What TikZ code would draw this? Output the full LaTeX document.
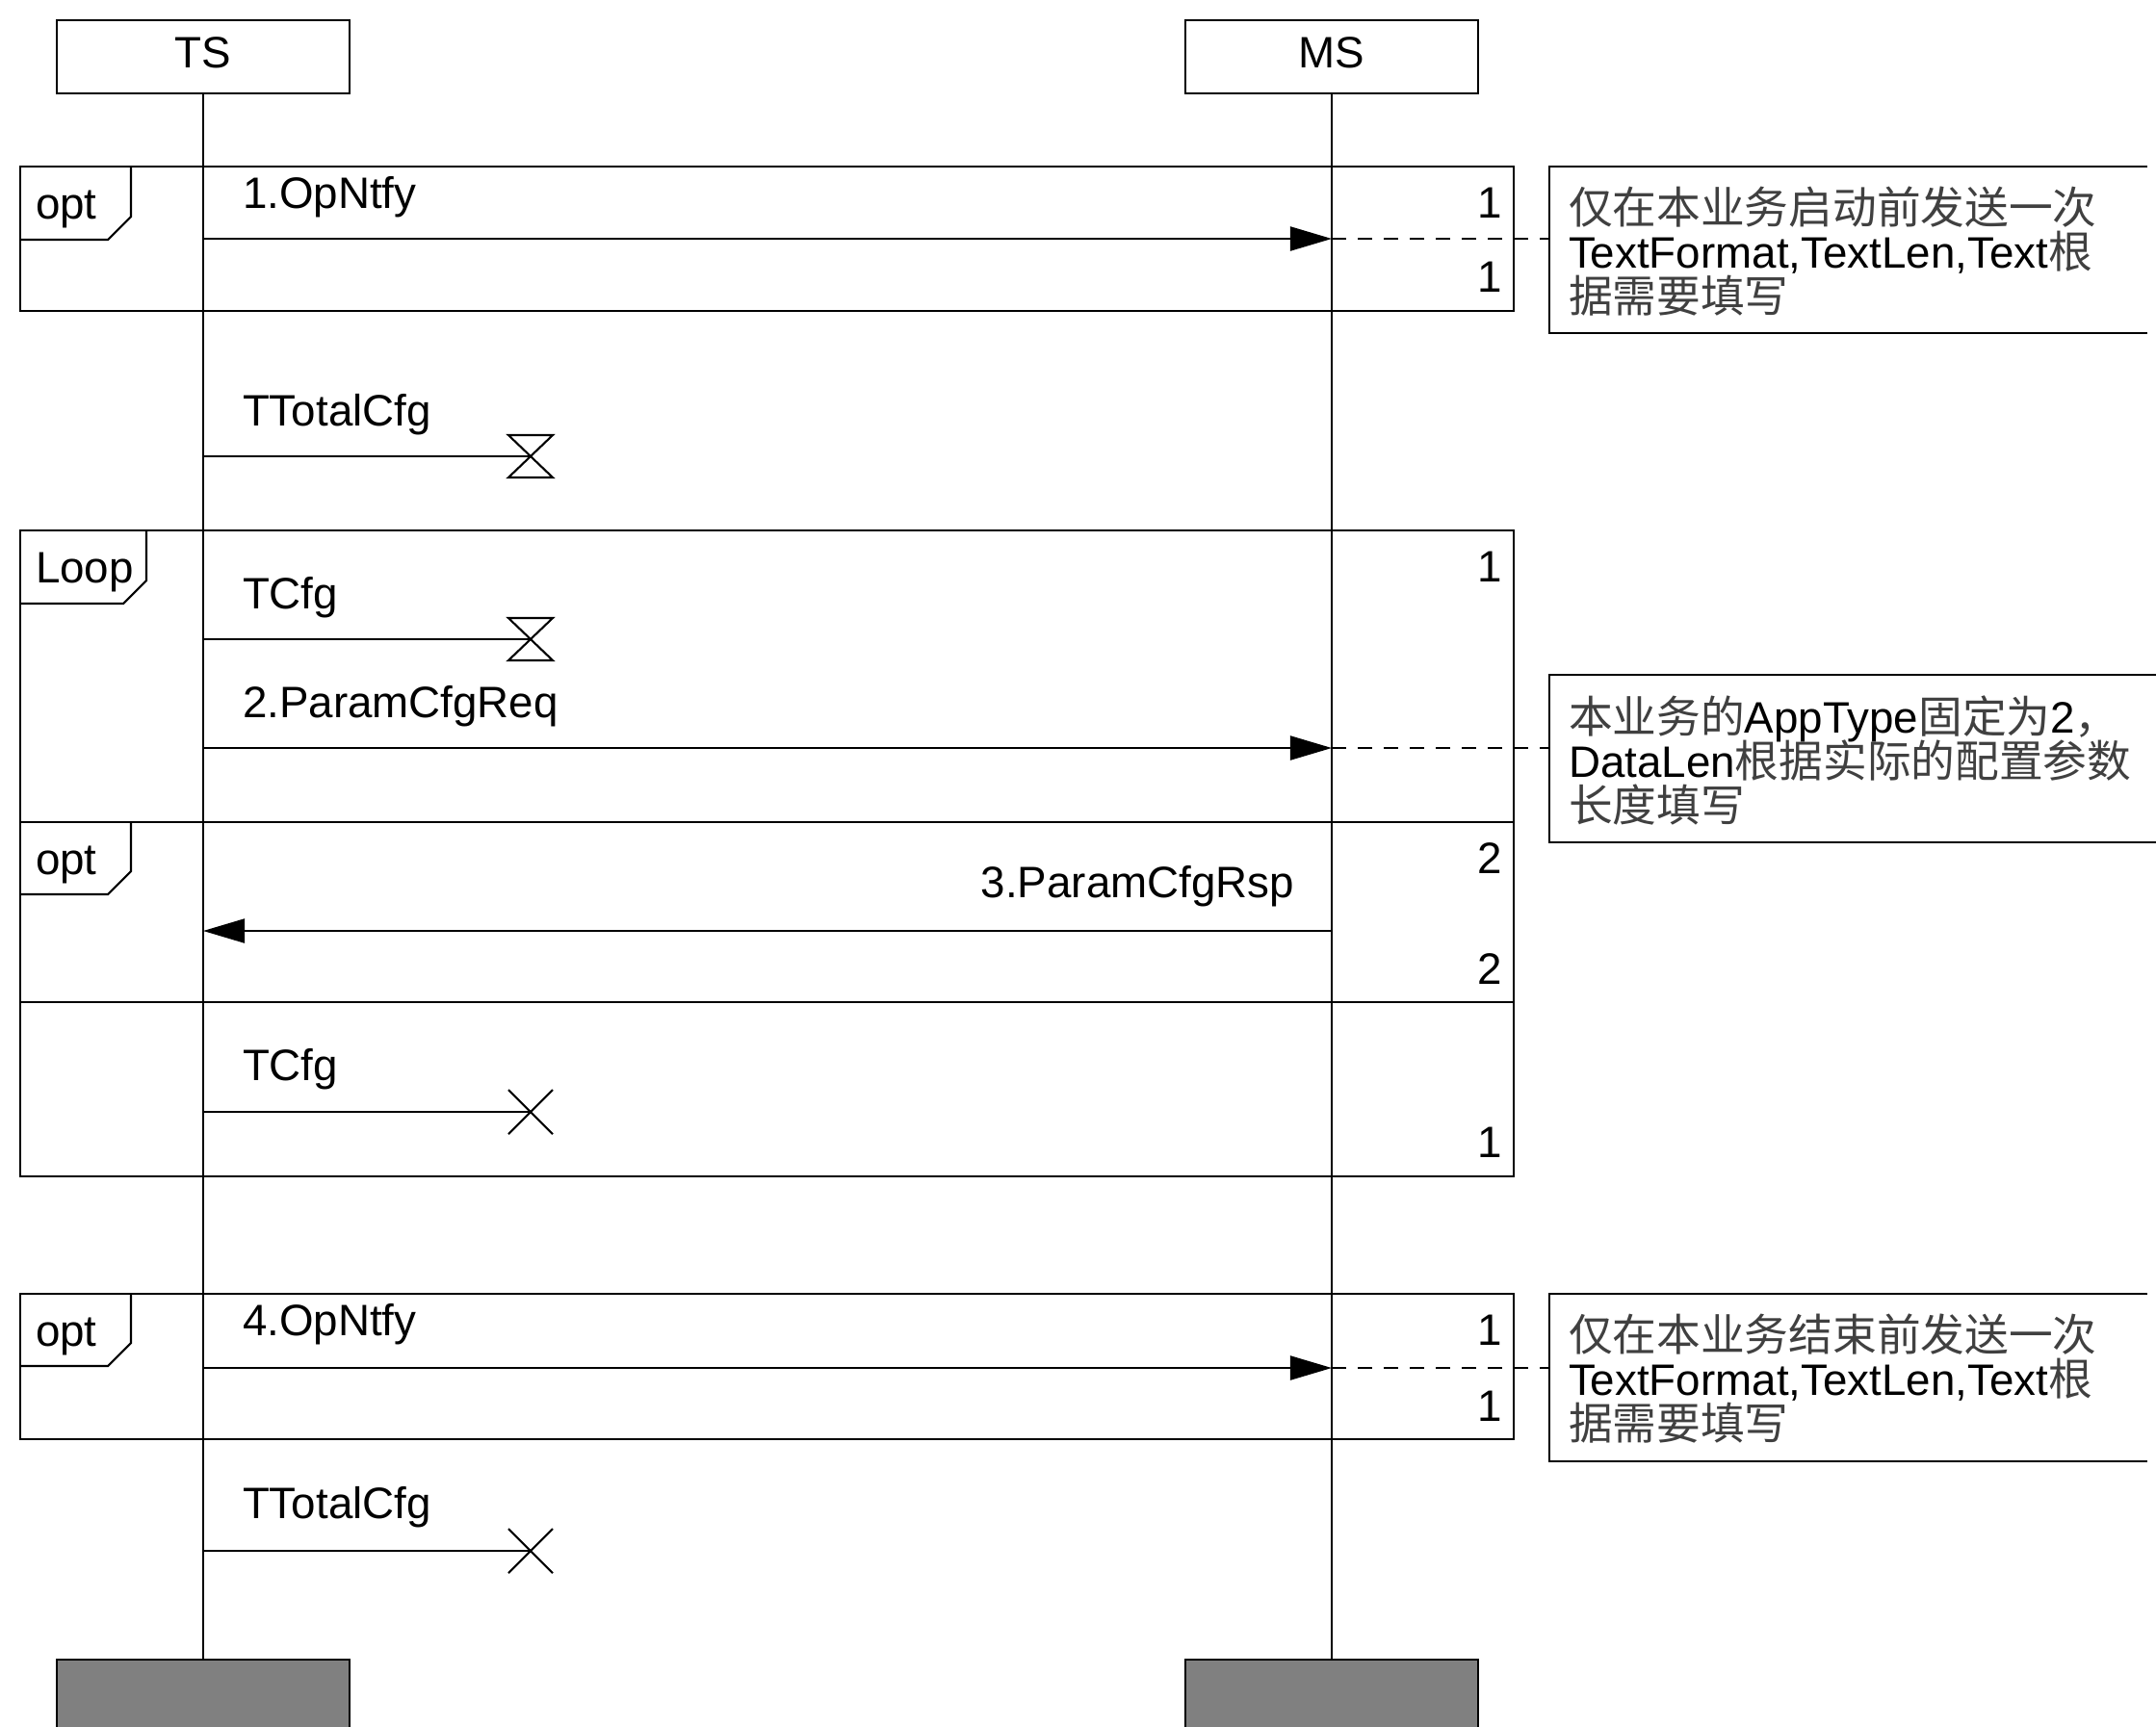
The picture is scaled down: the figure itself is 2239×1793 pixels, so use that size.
\documentclass[tikz,border=0pt]{standalone}
\usepackage{fontspec}
\setmainfont{Liberation Sans}
\newfontfamily\cjk{Noto Sans CJK SC}
\usepackage{tikz}
\usetikzlibrary{arrows.meta}
\newcommand{\zh}[1]{{\cjk\color{black!75}#1}}

\begin{document}
\begin{tikzpicture}[x=0.01cm, y=-0.01cm, line width=0.6pt,
	every node/.style = {font=\fontsize{13}{13.1}\selectfont, inner sep=0pt},
	obj/.style = {draw, minimum width=3.04cm, minimum height=0.76cm, text depth=0.08cm},
	objend/.style = {draw, fill=black!50, minimum width=3.04cm, minimum height=0.8cm},
	msg/.style = {-{Triangle[length=4.3mm, width=2.5mm]}},
	lbl/.style = {anchor=base west},
	num/.style = {anchor=base east},
	note/.style = {anchor=west, align=left, font={\fontsize{13}{13.1}\selectfont\lineskiplimit-20pt}},
	link/.style = {dash pattern=on 1.5mm off 1.2mm},
	tstart/.pic = {\draw (-23,-22) -- (23,-22) -- (-23,22) -- (23,22) -- cycle;},
	tstop/.pic = {\draw (-23,-23) -- (23,23) (-23,23) -- (23,-23);}]
	\useasboundingbox (0,0) rectangle (2239,1793);

	\node[obj] (ts) at (211,59) {TS};
	\node[obj] (ms) at (1383,59) {MS};
	\node[objend] (tsend) at (211,1764) {};
	\node[objend] (msend) at (1383,1764) {};
	\draw (ts) -- (tsend);
	\draw (ms) -- (msend);

	\draw (21,173) rectangle (1572,323);
	\draw (136,173) -- (136,225) -- (112,249) -- (21,249);
	\node[lbl] (f1) at (36,227) {opt};
	\draw (21,551) rectangle (1572,1222);
	\draw (152,551) -- (152,603) -- (128,627) -- (21,627);
	\node[lbl] (f2) at (36,605) {Loop};
	\draw (21,854) rectangle (1572,1041);
	\draw (136,854) -- (136,905) -- (112,929) -- (21,929);
	\node[lbl] (f3) at (36,908) {opt};
	\draw (21,1344) rectangle (1572,1495);
	\draw (136,1344) -- (136,1395) -- (112,1419) -- (21,1419);
	\node[lbl] (f4) at (36,1398) {opt};

	\node[num] (k1) at (1561,226) {1};
	\node[num] (k2) at (1561,303) {1};
	\node[num] (k3) at (1561,604) {1};
	\node[num] (k4) at (1561,907) {2};
	\node[num] (k5) at (1561,1022) {2};
	\node[num] (k6) at (1561,1202) {1};
	\node[num] (k7) at (1561,1397) {1};
	\node[num] (k8) at (1561,1476) {1};

	\coordinate (a1) at (211,248);
	\coordinate (b1) at (1383,248);
	\coordinate (c1) at (1609,248);
	\node[lbl] (m1) at (251,216) {1.OpNtfy};
	\draw[msg] (a1) -- (b1);
	\draw[link] (b1) -- (c1);

	\coordinate (a2) at (211,474);
	\coordinate (t2) at (551,474);
	\node[lbl] (m2) at (251,442) {TTotalCfg};
	\draw (a2) -- (t2);
	\pic at (t2) {tstart};

	\coordinate (a3) at (211,664);
	\coordinate (t3) at (551,664);
	\node[lbl] (m3) at (251,632) {TCfg};
	\draw (a3) -- (t3);
	\pic at (t3) {tstart};

	\coordinate (a4) at (211,777);
	\coordinate (b4) at (1383,777);
	\coordinate (c4) at (1609,777);
	\node[lbl] (m4) at (251,745) {2.ParamCfgReq};
	\draw[msg] (a4) -- (b4);
	\draw[link] (b4) -- (c4);

	\coordinate (a5) at (211,967);
	\coordinate (b5) at (1383,967);
	\node[anchor=base east] (m5) at (1345,932) {3.ParamCfgRsp};
	\draw[msg] (b5) -- (a5);

	\coordinate (a6) at (211,1155);
	\coordinate (t6) at (551,1155);
	\node[lbl] (m6) at (251,1122) {TCfg};
	\draw (a6) -- (t6);
	\pic at (t6) {tstop};

	\coordinate (a7) at (211,1421);
	\coordinate (b7) at (1383,1421);
	\coordinate (c7) at (1609,1421);
	\node[lbl] (m7) at (251,1387) {4.OpNtfy};
	\draw[msg] (a7) -- (b7);
	\draw[link] (b7) -- (c7);

	\coordinate (a8) at (211,1611);
	\coordinate (t8) at (551,1611);
	\node[lbl] (m8) at (251,1577) {TTotalCfg};
	\draw (a8) -- (t8);
	\pic at (t8) {tstop};

	\draw (2230,173) -| (1609,346) -- (2230,346);
	\node[note] (n1) at (1628,261) {\zh{仅在本业务启动前发送一次}\\TextFormat,TextLen,Text\zh{根}\\\zh{据需要填写}};
	\draw (2239,701) -| (1609,875) -- (2239,875);
	\node[note] (n2) at (1628,790) {\zh{本业务的}AppType\zh{固定为}2\zh{，}\\DataLen\zh{根据实际的配置参数}\\\zh{长度填写}};
	\draw (2230,1344) -| (1609,1518) -- (2230,1518);
	\node[note] (n3) at (1628,1432) {\zh{仅在本业务结束前发送一次}\\TextFormat,TextLen,Text\zh{根}\\\zh{据需要填写}};
\end{tikzpicture}
\end{document}
